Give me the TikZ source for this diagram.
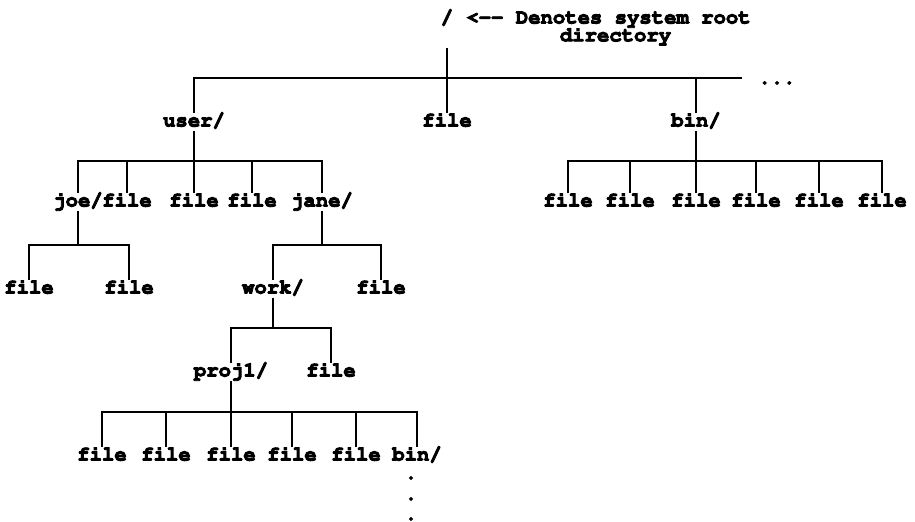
\documentclass[tikz,border=0pt]{standalone}
\usepackage[T1]{fontenc}
\usepackage{courier}
\usepackage{tikz}
\usetikzlibrary{positioning}

\begin{document}
\begin{tikzpicture}[x=0.5pt,y=-0.5pt,
  nom/.style={inner sep=0pt,font=\fontsize{10.3}{10}\selectfont\ttfamily\bfseries,text height=6.5pt,text depth=2pt,
    execute at begin node={\special{pdf:literal direct 2 Tr 0.45 w}},
    execute at end node={\special{pdf:literal direct 0 Tr}}},
  trait/.style={line width=1pt}
]
\useasboundingbox (0,0) rectangle (915,522);
% racine
\node[nom] (root) at (447,19) {/};
\node[nom,right=6.2pt of root] (note) {<-{}- Denotes system root};
\node[nom,below=0pt of note,xshift=3.5pt] (dir) {directory};
\coordinate (rb) at (root |- 0,78);
\coordinate (more) at (742,78);
\node[nom] (user) at (194,122) {user/};
\node[nom] (rfile) at (447,122) {file};
\node[nom] (bin) at (696,122) {bin/};
\node[nom,anchor=base] (etc) at (777,84) {...};
\draw[trait,shorten <=10pt] (root) -- (rb);
\draw[trait] (user) |- (more);
\draw[trait] (rb) -- (rfile);
\draw[trait] (rb -| bin) -- (bin);
% user/
\coordinate (ub) at (user |- 0,161);
\node[nom] (joe) at (78,202) {joe/};
\node[nom] (u2) at (127,202) {file};
\node[nom] (u3) at (194,202) {file};
\node[nom] (u4) at (252,202) {file};
\node[nom] (jane) at (322,202) {jane/};
\draw[trait] (user) -- (ub);
\draw[trait] (joe) |- (ub) -| (jane);
\foreach \f in {u2,u3,u4} \draw[trait] (ub -| \f) -- (\f);
% bin/
\coordinate (bb) at (bin |- 0,161);
\node[nom] (b1) at (568,202) {file};
\node[nom] (b2) at (630,202) {file};
\node[nom] (b3) at (696,202) {file};
\node[nom] (b4) at (756,202) {file};
\node[nom] (b5) at (819,202) {file};
\node[nom] (b6) at (882,202) {file};
\draw[trait] (bin) -- (bb);
\draw[trait] (b1) |- (bb) -| (b6);
\foreach \f in {b2,b3,b4,b5} \draw[trait] (bb -| \f) -- (\f);
% joe/ et jane/
\coordinate (jb) at (joe |- 0,245);
\node[nom] (j1) at (29,289) {file};
\node[nom] (j2) at (129,289) {file};
\draw[trait] (joe) -- (jb);
\draw[trait] (j1) |- (jb) -| (j2);
\coordinate (nb) at (jane |- 0,245);
\node[nom] (work) at (273,289) {work/};
\node[nom] (n2) at (381,289) {file};
\draw[trait] (jane) -- (nb);
\draw[trait] (work) |- (nb) -| (n2);
% work/
\coordinate (wb) at (work |- 0,328);
\node[nom] (proj) at (231,372) {proj1/};
\node[nom] (w2) at (331,372) {file};
\draw[trait] (work) -- (wb);
\draw[trait] (proj) |- (wb) -| (w2);
% proj1/
\coordinate (pb) at (proj |- 0,412);
\node[nom] (p1) at (102,456) {file};
\node[nom] (p2) at (166,456) {file};
\node[nom] (p3) at (231,456) {file};
\node[nom] (p4) at (292,456) {file};
\node[nom] (p5) at (356,456) {file};
\node[nom] (pbin) at (417,456) {bin/};
\draw[trait] (proj) -- (pb);
\draw[trait] (p1) |- (pb) -| (pbin);
\foreach \f in {p2,p3,p4,p5} \draw[trait] (pb -| \f) -- (\f);
\node[nom,anchor=base] (d1) at (411,479) {.};
\node[nom,anchor=base] (d2) at (411,500) {.};
\node[nom,anchor=base] (d3) at (411,520) {.};
\end{tikzpicture}
\end{document}
